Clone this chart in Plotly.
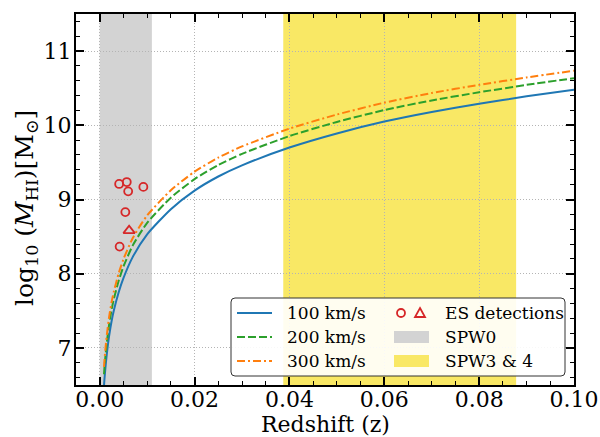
import plotly.graph_objects as go

# ---------------- data ----------------
redshift = [0.0009, 0.001, 0.0012, 0.0015, 0.002, 0.0025, 0.003, 0.004, 0.005, 0.007,
            0.01, 0.015, 0.02, 0.025, 0.03, 0.04, 0.05, 0.06, 0.07, 0.08, 0.09, 0.1]
mhi_100 = [6.49, 6.58, 6.73, 6.92, 7.17, 7.36, 7.51, 7.75, 7.94, 8.23,
           8.53, 8.87, 9.12, 9.31, 9.46, 9.70, 9.89, 10.05, 10.18, 10.29, 10.39, 10.48]
mhi_200 = [6.645, 6.735, 6.885, 7.075, 7.325, 7.515, 7.665, 7.905, 8.095, 8.385,
           8.685, 9.025, 9.275, 9.465, 9.615, 9.855, 10.045, 10.205, 10.335, 10.445, 10.545, 10.635]
mhi_300 = [6.745, 6.835, 6.985, 7.175, 7.425, 7.615, 7.765, 8.005, 8.195, 8.485,
           8.785, 9.125, 9.375, 9.565, 9.715, 9.955, 10.145, 10.305, 10.435, 10.545, 10.645, 10.735]

es_circle_z = [0.0041, 0.0057, 0.0060, 0.0092, 0.0054, 0.0042]
es_circle_m = [9.21, 9.235, 9.11, 9.17, 8.83, 8.365]
es_tri_z = [0.0062]
es_tri_m = [8.58]

spw0_range = [0.0, 0.011]
spw34_range = [0.0387, 0.0878]

x_ticks = [0.0, 0.02, 0.04, 0.06, 0.08, 0.10]
y_ticks = [7, 8, 9, 10, 11]

curve_labels = ["100 km/s", "200 km/s", "300 km/s"]
other_labels = ["ES detections", "SPW0", "SPW3 &amp; 4"]

# ---------------- style ----------------
BLUE, GREEN, ORANGE, RED = "#1f77b4", "#2ca02c", "#ff7f0e", "#d62728"
GRAY_BAND, YELLOW_BAND = "#d3d3d3", "#f9e865"
FONT = "DejaVu Serif"
DASH = "8px,3px"
DASHDOT = "8px,3px,2px,3px"

fig = go.Figure()

# bands
fig.add_vrect(x0=spw0_range[0], x1=spw0_range[1], fillcolor=GRAY_BAND, line_width=0,
              layer="below", opacity=1)
fig.add_vrect(x0=spw34_range[0], x1=spw34_range[1], fillcolor=YELLOW_BAND, line_width=0,
              layer="below", opacity=1)

# curves
for ys, col, dash, name in [(mhi_100, BLUE, "solid", curve_labels[0]),
                            (mhi_200, GREEN, DASH, curve_labels[1]),
                            (mhi_300, ORANGE, DASHDOT, curve_labels[2])]:
    fig.add_trace(go.Scatter(x=redshift, y=ys, mode="lines", name=name,
                             line=dict(color=col, width=2, dash=dash, shape="spline", smoothing=0.6),
                             showlegend=False, hoverinfo="skip"))

fig.add_trace(go.Scatter(x=es_circle_z, y=es_circle_m, mode="markers",
                         marker=dict(symbol="circle-open", size=8, color=RED, line=dict(width=1.8, color=RED)),
                         showlegend=False, hoverinfo="skip"))
fig.add_trace(go.Scatter(x=es_tri_z, y=es_tri_m, mode="markers",
                         marker=dict(symbol="triangle-up-open", size=10, color=RED, line=dict(width=1.8, color=RED)),
                         showlegend=False, hoverinfo="skip"))

# ---------------- layout geometry (pixels) ----------------
W, H = 600, 437
L, R, T, B = 76, 574, 14, 385


def px(x):
    return (x - L) / (R - L)


def py(y):
    return (B - y) / (B - T)


shapes = []
annotations = []

# legend box (rounded)
lx0, lx1, ly0, ly1, rad = 231, 565, 298, 376, 4
path = (f"M {px(lx0+rad)},{py(ly0)} L {px(lx1-rad)},{py(ly0)} "
        f"Q {px(lx1)},{py(ly0)} {px(lx1)},{py(ly0+rad)} "
        f"L {px(lx1)},{py(ly1-rad)} Q {px(lx1)},{py(ly1)} {px(lx1-rad)},{py(ly1)} "
        f"L {px(lx0+rad)},{py(ly1)} Q {px(lx0)},{py(ly1)} {px(lx0)},{py(ly1-rad)} "
        f"L {px(lx0)},{py(ly0+rad)} Q {px(lx0)},{py(ly0)} {px(lx0+rad)},{py(ly0)} Z")
shapes.append(dict(type="path", xref="paper", yref="paper", path=path,
                   fillcolor="rgba(255,255,255,0.9)", line=dict(color="#333333", width=1), layer="above"))

rows = [313, 337, 361]
for yc, col, dash, lab in zip(rows, [BLUE, GREEN, ORANGE], ["solid", DASH, DASHDOT], curve_labels):
    shapes.append(dict(type="line", xref="paper", yref="paper", x0=px(237), x1=px(272), y0=py(yc), y1=py(yc),
                       line=dict(color=col, width=2, dash=dash), layer="above"))
    annotations.append(dict(x=px(285), y=py(yc), xref="paper", yref="paper", text=lab, showarrow=False,
                            xanchor="left", yanchor="middle", font=dict(family=FONT, size=17, color="black")))

# ES detections symbols
r = 4
shapes.append(dict(type="circle", xref="paper", yref="paper", x0=px(401 - r), x1=px(401 + r),
                   y0=py(rows[0] - r), y1=py(rows[0] + r), line=dict(color=RED, width=1.8), layer="above"))
tri = (f"M {px(420)},{py(rows[0]-5)} L {px(425)},{py(rows[0]+4)} L {px(415)},{py(rows[0]+4)} Z")
shapes.append(dict(type="path", xref="paper", yref="paper", path=tri,
                   line=dict(color=RED, width=1.8), layer="above"))
# patches
for yc, col in [(rows[1], GRAY_BAND), (rows[2], YELLOW_BAND)]:
    shapes.append(dict(type="rect", xref="paper", yref="paper", x0=px(394), x1=px(429),
                       y0=py(yc - 6), y1=py(yc + 6), fillcolor=col, line=dict(width=0), layer="above"))
for yc, lab in zip(rows, other_labels):
    annotations.append(dict(x=px(443), y=py(yc), xref="paper", yref="paper", text=lab, showarrow=False,
                            xanchor="left", yanchor="middle", font=dict(family=FONT, size=17, color="black")))

# axis titles
annotations.append(dict(x=px(325), y=py(424), xref="paper", yref="paper", text="Redshift (z)",
                        showarrow=False, xanchor="center", yanchor="middle",
                        font=dict(family=FONT, size=22, color="black")))
annotations.append(dict(x=px(26), y=py(208), xref="paper", yref="paper",
                        text="log<sub>10</sub> (<i>M</i><sub>HI</sub>)[M<sub>⊙</sub>]",
                        showarrow=False, xanchor="center", yanchor="middle", textangle=-90,
                        font=dict(family=FONT, size=25, color="black")))

axis_common = dict(showline=True, linewidth=2, linecolor="black", mirror="allticks",
                   ticks="inside", ticklen=8, tickwidth=1.5, tickcolor="black",
                   showgrid=True, gridcolor="#b4b4b4", griddash="1px,2px", gridwidth=1,
                   zeroline=False, automargin=False,
                   tickfont=dict(family=FONT, size=22, color="black"))

fig.update_layout(
    width=W, height=H,
    margin=dict(l=L, r=W - R, t=T, b=H - B, autoexpand=False),
    paper_bgcolor="white", plot_bgcolor="white",
    showlegend=False, hovermode=False,
    shapes=list(fig.layout.shapes) + shapes,
    annotations=annotations,
    xaxis=dict(range=[-0.005, 0.1], tickvals=x_ticks, tickformat=".2f", ticklabelstandoff=-6,
               minor=dict(dtick=0.005, tick0=0, ticks="inside", ticklen=4, tickwidth=1.2,
                          tickcolor="black", showgrid=False),
               **axis_common),
    yaxis=dict(range=[6.5, 11.5], tickvals=y_ticks, ticklabelstandoff=-2,
               minor=dict(dtick=0.2, tick0=6.6, ticks="inside", ticklen=4, tickwidth=1.2,
                          tickcolor="black", showgrid=False),
               **axis_common),
)

fig.write_html("out.html", config={"displayModeBar": False},
               post_script="document.body.style.margin='0';document.body.style.overflow='hidden';")
